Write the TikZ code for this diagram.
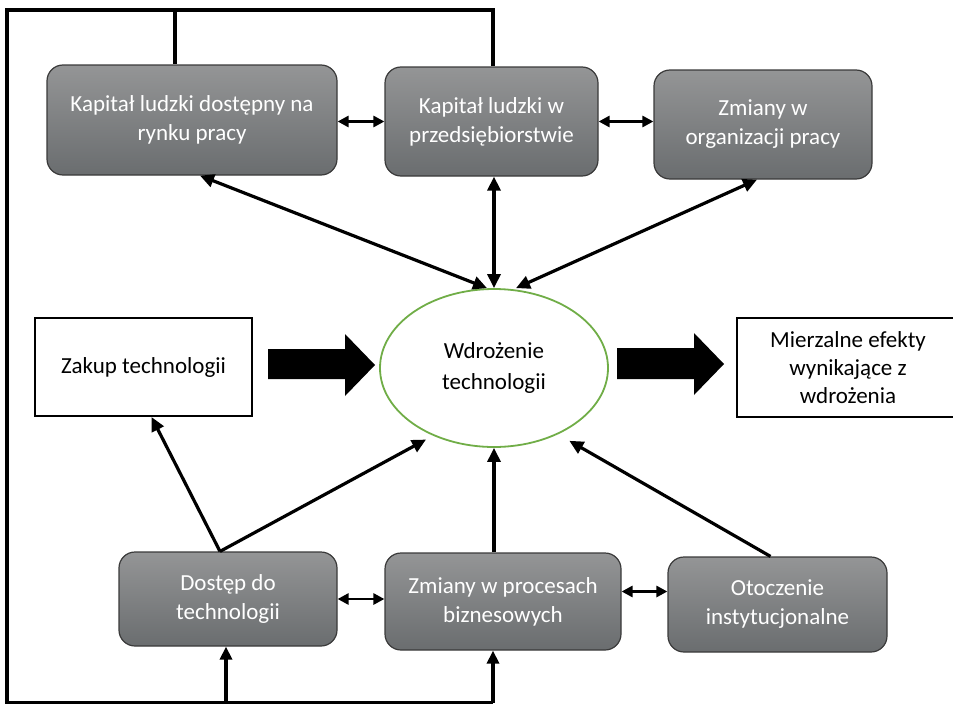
\documentclass[tikz,border=0pt]{standalone}
\usepackage{fontspec}
\setmainfont{Carlito}
\usetikzlibrary{arrows.meta,shapes.geometric}
\definecolor{boxtop}{HTML}{949596}
\definecolor{boxbot}{HTML}{6A6D6F}
\definecolor{boxline}{HTML}{3A3A3A}
\definecolor{ovalline}{HTML}{70AD47}
\tikzset{
    box/.style={draw=boxline, line width=1.2pt, rounded corners=16pt, top color=boxtop, bottom color=boxbot, text=white, align=center, inner sep=0pt, font=\fontsize{23}{29}\selectfont},
    plainbox/.style={draw, line width=2pt, fill=white, align=center, inner sep=0pt, font=\fontsize{23}{28}\selectfont},
    oval/.style={ellipse, draw=ovalline, line width=1.8pt, align=center, inner sep=0pt, font=\fontsize{23}{31}\selectfont},
    link/.style={line width=2.8pt, {Triangle[length=11pt,width=11pt]}-{Triangle[length=11pt,width=11pt]}},
    spoke/.style={line width=3.2pt, -{Triangle[length=14pt,width=13pt]}},
    twoway/.style={spoke, {Triangle[length=14pt,width=13pt]}-{Triangle[length=14pt,width=13pt]}},
    frame/.style={line width=3.2pt}
}
\begin{document}
\begin{tikzpicture}[x=1pt, y=-1pt]
    \useasboundingbox (0,0) rectangle (953,704);
    \node [box, minimum width=290pt, minimum height=110pt] (kr) at (192,120) {Kapitał ludzki dostępny na\\rynku pracy};
    \node [box, minimum width=213pt, minimum height=109pt] (kp) at (491.5,121.5) {Kapitał ludzki w\\przedsiębiorstwie};
    \node [box, minimum width=218pt, minimum height=109pt] (zo) at (763,124.5) {Zmiany w\\organizacji pracy};
    \node [oval, minimum width=228pt, minimum height=158pt] (wt) at (494,368) {Wdrożenie\\technologii};
    \node [plainbox, minimum width=217pt, minimum height=98pt] (zt) at (143.5,367) {Zakup technologii};
    \node [plainbox, minimum width=222pt, minimum height=99pt] (me) at (848,367.5) {Mierzalne efekty\\wynikające z\\wdrożenia};
    \node [box, minimum width=218pt, minimum height=94pt] (dt) at (228,599) {Dostęp do\\technologii};
    \node [box, minimum width=236pt, minimum height=97pt] (zp) at (503,601.5) {Zmiany w procesach\\biznesowych};
    \node [box, minimum width=219pt, minimum height=95pt] (oi) at (777.5,604.5) {Otoczenie\\instytucjonalne};
    \coordinate (fl) at (7,10);
    \coordinate (fm) at (175,10);
    \coordinate (fr) at (493,10);
    \coordinate (bl) at (7,703);
    \coordinate (bm) at (226,703);
    \coordinate (br) at (493,703);
    \draw [frame] (fr |- kp.north) -- (fr) -- (fl) -- (bl) -- (br);
    \draw [frame] (fm) -- (fm |- kr.north);
    \draw [frame, -{Triangle[length=13pt,width=12pt]}] (bm) -- (bm |- dt.south);
    \draw [frame, -{Triangle[length=13pt,width=12pt]}] (br) -- (br |- zp.south);
    \draw [link] (kp.west -| kr.east) -- (kp.west);
    \draw [link] (kp.east) -- (kp.east -| zo.west);
    \draw [link] (dt.east) -- (dt.east -| zp.west);
    \draw [link] ([yshift=10pt]zp.east) -- ([yshift=10pt]zp.east -| oi.west);
    \draw [twoway] ([xshift=8pt]kr.south) -- ([xshift=-7pt]wt.north);
    \draw [twoway] (wt.north |- kp.south) -- (wt.north);
    \draw [twoway] ([xshift=-6pt]zo.south) -- ([xshift=22pt]wt.north);
    \draw [spoke] ([xshift=-8pt]dt.north) -- ([xshift=8pt]zt.south);
    \draw [spoke, shorten >=8pt] ([xshift=-8pt]dt.north) -- (wt.228);
    \draw [spoke] (zp.north -| wt.south) -- (wt.south);
    \draw [spoke, shorten >=13pt] ([xshift=-7pt]oi.north) -- (wt.314);
    \fill (268,349) -- (345,349) -- (345,334) -- (375,365) -- (345,396) -- (345,379) -- (268,379) -- cycle;
    \fill (617,348) -- (694,348) -- (694,333) -- (724,364) -- (694,395) -- (694,379) -- (617,379) -- cycle;
\end{tikzpicture}
\end{document}
